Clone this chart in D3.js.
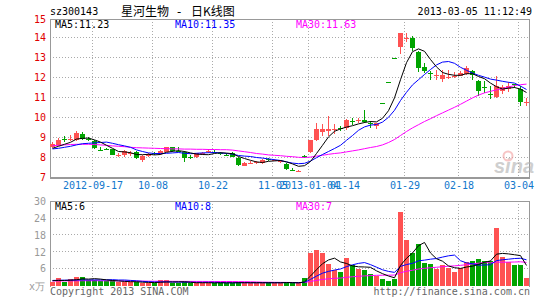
<!DOCTYPE html>
<html><head><meta charset="utf-8">
<script src="https://cdn.jsdelivr.net/npm/d3@7"></script>
<style>
body{margin:0;background:#fff}
svg{display:block}
</style>
</head><body><svg id="c" width="545" height="300"></svg>
<script>
const dates = ["2012-09-06","2012-09-07","2012-09-10","2012-09-11","2012-09-12","2012-09-13","2012-09-14","2012-09-17","2012-09-18","2012-09-19",
"2012-09-20","2012-09-21","2012-09-24","2012-09-25","2012-09-26","2012-09-27","2012-09-28","2012-10-08","2012-10-09","2012-10-10",
"2012-10-11","2012-10-12","2012-10-15","2012-10-16","2012-10-17","2012-10-18","2012-10-19","2012-10-22","2012-10-23","2012-10-24",
"2012-10-25","2012-10-26","2012-10-29","2012-10-30","2012-10-31","2012-11-01","2012-11-02","2012-11-05","2012-11-06","2012-11-07",
"2012-11-08","2012-11-09","2012-11-12","2013-01-04","2013-01-07","2013-01-08","2013-01-09","2013-01-10","2013-01-11","2013-01-14",
"2013-01-15","2013-01-16","2013-01-17","2013-01-18","2013-01-21","2013-01-23","2013-01-24","2013-01-25","2013-01-28","2013-01-29",
"2013-01-30","2013-01-31","2013-02-01","2013-02-04","2013-02-05","2013-02-06","2013-02-07","2013-02-08","2013-02-18","2013-02-19",
"2013-02-20","2013-02-21","2013-02-22","2013-02-25","2013-02-26","2013-02-27","2013-02-28","2013-03-01","2013-03-04","2013-03-05"];

const open = [8.53,8.62,8.92,8.88,8.88,9.17,8.92,8.80,8.38,8.41, 8.40,8.11,8.12,8.19,8.28,7.87,8.05,8.20,8.16,8.28,
8.50,8.33,8.28,8.00,8.03,8.19,8.28,8.27,8.22,8.14, 8.20,7.98,7.57,7.72,7.73,7.70,7.91,7.84,7.80,7.67,
7.36,7.30,8.05,8.25,8.85,9.25,9.30,9.40,9.45,9.45, 9.80,9.85,9.87,9.72,9.57,10.70,11.77,12.95,13.50,13.95,
13.98,13.28,12.53,12.22,12.08,11.90,12.00,12.05,12.08,12.15, 12.30,11.82,11.52,11.19,11.03,11.33,11.42,11.65,11.42,10.73];
const high = [8.75,8.98,9.05,9.10,9.30,9.25,9.00,8.85,8.50,8.48, 8.42,8.22,8.38,8.32,8.30,8.10,8.20,8.25,8.38,8.52,
8.52,8.50,8.30,8.10,8.22,8.28,8.40,8.35,8.28,8.20, 8.25,8.00,7.76,7.80,7.82,7.90,7.95,7.92,7.88,7.70,
7.45,7.38,8.10,8.88,9.70,9.68,10.08,9.68,9.55,9.90, 9.98,9.95,10.37,9.80,9.73,10.70,11.77,12.95,14.24,14.25,
14.05,13.30,12.70,12.33,12.35,12.35,12.35,12.28,12.30,12.58, 12.38,11.85,11.82,11.55,12.05,11.60,11.75,11.68,11.55,10.95];
const low = [8.45,8.58,8.78,8.80,8.82,8.85,8.80,8.40,8.30,8.35, 8.10,8.00,8.02,8.08,7.92,7.78,8.02,8.10,8.12,8.25,
8.25,8.25,7.75,7.92,7.95,8.12,8.20,8.20,8.12,8.05, 8.00,7.58,7.55,7.65,7.68,7.68,7.82,7.80,7.72,7.38,
7.30,7.28,7.95,8.20,8.80,9.05,9.05,9.15,9.30,9.35, 9.60,9.70,9.70,9.45,9.40,10.70,11.77,12.95,13.17,13.75,
13.30,12.28,12.20,11.87,11.85,11.75,11.92,11.95,12.05,12.10, 11.85,11.08,11.20,10.90,10.95,11.15,11.25,11.45,10.55,10.55];
const close = [8.68,8.87,8.90,8.90,9.20,8.90,8.90,8.45,8.37,8.40, 8.12,8.12,8.33,8.20,7.95,8.07,8.18,8.18,8.33,8.50,
8.30,8.32,7.98,7.98,8.20,8.20,8.30,8.25,8.20,8.12, 8.03,7.62,7.73,7.73,7.75,7.87,7.90,7.86,7.82,7.42,
7.35,7.32,8.00,8.85,9.42,9.42,9.40,9.42,9.42,9.87, 9.78,9.87,9.75,9.70,9.73,10.70,11.77,12.95,14.24,13.97,
13.48,12.48,12.33,12.20,12.10,12.10,12.02,12.07,12.23,12.48, 12.10,11.32,11.50,11.17,11.57,11.50,11.58,11.63,10.75,10.75];
const volume = [1.2,2.5,1.2,2.4,2.9,2.9,2.0,2.0,1.6,1.5, 1.8,1.2,1.2,1.1,1.4,1.0,0.8,0.9,1.8,1.8,
1.0,1.0,1.1,0.9,0.9,1.0,1.0,0.9,1.0,0.9, 1.0,1.2,1.0,0.9,0.9,1.0,1.1,1.0,0.9,1.3,
0.8,0.8,2.5,11.5,12.5,11.5,7.5,5.7,4.8,9.7, 7.2,5.9,5.4,4.2,3.4,2.2,1.7,2.2,26.3,16.1,
11.6,14.7,8.0,7.5,5.9,7.2,6.3,4.8,6.2,8.4, 8.7,9.3,8.7,8.7,20.4,10.1,8.4,7.2,7.2,2.8];

const ma5 = [8.45,8.55,8.65,8.75,8.91,8.95,8.96,8.87,8.76,8.60, 8.45,8.29,8.27,8.23,8.14,8.13,8.15,8.12,8.14,8.25,
8.30,8.33,8.29,8.22,8.16,8.14,8.13,8.19,8.23,8.21, 8.18,8.04,7.94,7.85,7.77,7.74,7.80,7.82,7.84,7.77,
7.67,7.55,7.58,7.79,8.19,8.60,9.02,9.30,9.42,9.51, 9.58,9.67,9.74,9.79,9.77,9.95,10.33,10.97,11.88,12.73,
13.28,13.42,13.30,12.89,12.52,12.24,12.15,12.10,12.10,12.18, 12.18,12.04,11.93,11.71,11.53,11.41,11.46,11.49,11.41,11.24];
const ma10 = [8.42,8.45,8.50,8.55,8.62,8.68,8.70,8.72,8.74,8.76, 8.70,8.63,8.57,8.50,8.37,8.29,8.22,8.19,8.19,8.20,
8.22,8.24,8.20,8.18,8.20,8.22,8.23,8.24,8.22,8.19, 8.16,8.09,8.06,8.04,7.99,7.96,7.92,7.88,7.84,7.77,
7.71,7.68,7.70,7.81,7.98,8.14,8.29,8.44,8.60,8.85, 9.09,9.35,9.52,9.61,9.64,9.76,10.00,10.35,10.84,11.25,
11.62,11.88,12.14,12.39,12.62,12.76,12.79,12.70,12.50,12.35, 12.21,12.10,12.01,11.91,11.86,11.80,11.75,11.71,11.56,11.39];
const ma30 = [8.58,8.60,8.62,8.64,8.65,8.65,8.65,8.64,8.62,8.60, 8.57,8.55,8.53,8.50,8.48,8.47,8.46,8.45,8.44,8.43,
8.42,8.42,8.41,8.41,8.40,8.40,8.39,8.39,8.38,8.38, 8.36,8.32,8.28,8.24,8.19,8.16,8.12,8.10,8.08,8.05,
8.03,8.00,7.99,8.01,8.06,8.10,8.15,8.19,8.22,8.27, 8.32,8.37,8.43,8.49,8.54,8.62,8.74,8.89,9.09,9.29,
9.47,9.63,9.79,9.93,10.08,10.22,10.36,10.50,10.65,10.81, 10.97,11.11,11.22,11.30,11.37,11.44,11.51,11.59,11.63,11.66];

const vma5 = [1.7,1.8,1.8,1.9,2.04,2.38,2.28,2.44,2.28,2.0, 1.78,1.62,1.46,1.36,1.34,1.18,1.10,1.04,1.18,1.26,
1.26,1.30,1.34,1.16,0.98,0.98,0.98,0.94,0.96,0.96, 0.96,1.0,1.02,1.0,1.0,1.0,0.98,0.98,0.98,1.06,
1.02,0.96,1.26,3.38,5.62,7.76,9.10,9.74,8.40,7.84, 6.98,6.66,6.60,6.48,5.22,4.22,3.38,2.74,7.16,9.70,
11.58,14.18,15.34,11.58,9.54,8.66,6.98,6.34,6.08,6.58, 6.88,7.48,8.26,8.76,11.16,11.44,11.26,10.96,10.66,7.14];
const vma10 = [1.8,1.85,1.9,1.9,1.95,2.0,2.0,2.0,2.0,2.02, 2.08,1.95,1.95,1.82,1.67,1.48,1.36,1.25,1.27,1.30,
1.22,1.20,1.19,1.17,1.12,1.12,1.14,1.14,1.06,0.97, 0.97,0.99,0.98,0.98,0.98,0.98,0.99,1.0,0.99,1.03,
1.01,0.97,1.12,2.18,3.34,4.39,5.03,5.50,5.89,6.73, 7.37,7.88,8.17,7.44,6.53,5.60,5.02,4.67,6.82,7.46,
7.90,8.78,9.04,9.37,9.62,10.12,10.58,10.84,8.83,8.06, 7.77,7.23,7.30,7.42,8.87,9.16,9.37,9.61,9.71,9.15];
const vma30 = [1.6,1.62,1.64,1.66,1.68,1.7,1.7,1.7,1.7,1.68, 1.66,1.64,1.62,1.6,1.58,1.56,1.54,1.52,1.51,1.5,
1.49,1.48,1.47,1.46,1.45,1.45,1.44,1.44,1.43,1.43, 1.42,1.38,1.37,1.32,1.26,1.19,1.16,1.13,1.11,1.10,
1.07,1.05,1.10,1.44,1.81,2.16,2.39,2.55,2.65,2.91, 3.12,3.28,3.42,3.53,3.62,3.66,3.68,3.72,4.57,5.07,
5.43,5.88,6.11,6.33,6.50,6.70,6.88,7.00,7.18,7.42, 7.68,7.96,8.17,8.08,8.34,8.29,8.32,8.37,8.45,8.22];

const priceTicks = [7,8,9,10,11,12,13,14,15];
const volTicks = [6,12,18,24,30];
const tickDates = ["2012-09-17","2012-10-08","2012-10-22","2012-11-05","2013-01-04","2013-01-14","2013-01-29","2013-02-18","2013-03-04"];
const tickLabels = ["2012-09-17","10-08","10-22","11-05","2013-01-04","01-14","01-29","02-18","03-04"];
const title = {code:"sz300143", name:"星河生物", sep:"-", kind:"日K线图", time:"2013-03-05 11:12:49"};
const priceLegend = ["MA5:11.23","MA10:11.35","MA30:11.63"];
const volLegend = ["MA5:6","MA10:8","MA30:7"];

const MONO = "'DejaVu Sans Mono', monospace";
const CJK = "'Noto Sans CJK SC', sans-serif";
const RED = "#ff5252", GREEN = "#00a400";
const maColors = ["#000000","#0000ff","#ff00ff"];
const svg = d3.select("#c");

const L = 50, R = 530;
const PT = 19, PB = 177.3, VT = 201.3, VB = 285.5;
const n = dates.length;
const x = d3.scaleLinear().domain([0, n - 1]).range([52.5, 52.5 + 6 * (n - 1)]);
const xEdge = d3.scaleLinear().domain([0, n - 1]).range([50.5, 50.5 + 6 * (n - 1)]);
const yP = d3.scaleLinear().domain([7, 14, 15]).range([PB, 37.3, PT]);
const yV = d3.scaleLinear().domain([0, 30]).range([VB, VT]);
const tickIdx = tickDates.map(d => dates.indexOf(d));
const snap = v => Math.round(v) + 0.5;

// grid
const grid = svg.append("g").attr("stroke", "#aaa").attr("stroke-dasharray", "1,2").attr("shape-rendering", "crispEdges");
priceTicks.filter(p => p > 7 && p < 15).forEach(p => {
  grid.append("line").attr("x1", L).attr("x2", R).attr("y1", snap(yP(p) - 0.5)).attr("y2", snap(yP(p) - 0.5));
});
volTicks.filter(v => v < 30).forEach(v => {
  grid.append("line").attr("x1", L).attr("x2", R).attr("y1", snap(yV(v) - 0.5)).attr("y2", snap(yV(v) - 0.5));
});
tickIdx.forEach(i => {
  grid.append("line").attr("x1", xEdge(i)).attr("x2", xEdge(i)).attr("y1", PT).attr("y2", PB);
  grid.append("line").attr("x1", xEdge(i)).attr("x2", xEdge(i)).attr("y1", VT).attr("y2", VB);
});

// borders
const bd = svg.append("g").attr("stroke", "#999").attr("fill", "none").attr("shape-rendering", "crispEdges");
bd.append("path").attr("d", `M${L + 0.5},${PB + 0.5}V${PT + 0.5}H${R - 0.5}V${PB + 0.5}`);
bd.append("line").attr("x1", L).attr("x2", R).attr("y1", PB + 0.5).attr("y2", PB + 0.5).attr("stroke-width", 1.6);
bd.append("path").attr("d", `M${L + 0.5},${VB + 1}V${VT + 0.5}H${R - 0.5}V${VB + 1}`);

// watermark
const wm = svg.append("g").attr("opacity", 0.6);
wm.append("text").attr("x", 494).attr("y", 173).text("sina")
  .attr("font-family", "'Liberation Sans', sans-serif").attr("font-size", 20).attr("font-weight", "bold")
  .attr("font-style", "italic").attr("fill", "#b0b0b0");
wm.append("circle").attr("cx", 508).attr("cy", 156).attr("r", 4.5).attr("fill", "none").attr("stroke", "#f2a0a0").attr("stroke-width", 2);

// candles
const cg = svg.append("g").attr("shape-rendering", "crispEdges");
d3.range(n).forEach(i => {
  const col = close[i] > open[i] ? RED : GREEN;
  cg.append("line").attr("x1", x(i)).attr("x2", x(i)).attr("y1", yP(high[i])).attr("y2", yP(low[i])).attr("stroke", col);
  const y0 = yP(Math.max(open[i], close[i])), y1 = yP(Math.min(open[i], close[i]));
  cg.append("rect").attr("x", x(i) - 2.5).attr("width", 5).attr("y", y0).attr("height", Math.max(1, y1 - y0)).attr("fill", col);
  cg.append("rect").attr("x", x(i) - 2.5).attr("width", 5).attr("y", yV(volume[i])).attr("height", VB - yV(volume[i])).attr("fill", col);
});

// MA lines
const lineP = d3.line().x((d, i) => x(i)).y(d => yP(d));
const lineV = d3.line().x((d, i) => x(i)).y(d => yV(d));
[ma30, ma10, ma5].forEach((s, k) => {
  svg.append("path").attr("d", lineP(s)).attr("fill", "none").attr("stroke", maColors[2 - k]).attr("stroke-width", 1);
});
[vma30, vma10, vma5].forEach((s, k) => {
  svg.append("path").attr("d", lineV(s)).attr("fill", "none").attr("stroke", maColors[2 - k]).attr("stroke-width", 1);
});

// axes
const ay = svg.append("g").attr("transform", `translate(${L},0)`)
  .call(d3.axisLeft(yP).tickValues(priceTicks).tickFormat(d3.format("d")).tickSize(0).tickPadding(4));
ay.select(".domain").remove();
ay.selectAll("text").attr("fill", "#e00000").attr("font-family", MONO).attr("font-size", 10);

const av = svg.append("g").attr("transform", `translate(${L},0)`)
  .call(d3.axisLeft(yV).tickValues(volTicks).tickFormat(d3.format("d")).tickSize(0).tickPadding(4));
av.select(".domain").remove();
av.selectAll("text").attr("fill", "#999").attr("font-family", MONO).attr("font-size", 10);

const ax = svg.append("g").attr("transform", `translate(0,${PB})`)
  .call(d3.axisBottom(xEdge).tickValues(tickIdx).tickFormat((d, k) => tickLabels[k]).tickSize(0).tickPadding(4.4));
ax.select(".domain").remove();
ax.selectAll("text").attr("fill", "#1177cc").attr("font-family", MONO).attr("font-size", 10);

// header texts
const t = (xx, yy, s, o = {}) => svg.append("text").attr("x", xx).attr("y", yy).text(s)
  .attr("font-family", o.f || MONO).attr("font-size", o.s || 10).attr("fill", o.c || "#000")
  .attr("text-anchor", o.a || "start").attr("font-weight", o.w || "normal");
t(50, 15, title.code);
t(121, 15.5, title.name, {f: CJK, s: 12});
t(179, 15.5, title.sep, {f: MONO, s: 12, a: "middle"});
t(191, 15.5, title.kind, {f: CJK, s: 12});
t(532, 15, title.time, {a: "end"});
const legX = [55, 175, 296];
priceLegend.forEach((s, k) => t(legX[k], 28, s, {c: maColors[k]}));
volLegend.forEach((s, k) => t(legX[k], 209.5, s, {c: maColors[k]}));
t(29, 289.5, "x万", {c: "#999"});
t(50, 295, "Copyright 2013 SINA.COM", {c: "#666"});
t(530, 295, "http://finance.sina.com.cn", {c: "#666", a: "end"});
</script>
</body></html>
